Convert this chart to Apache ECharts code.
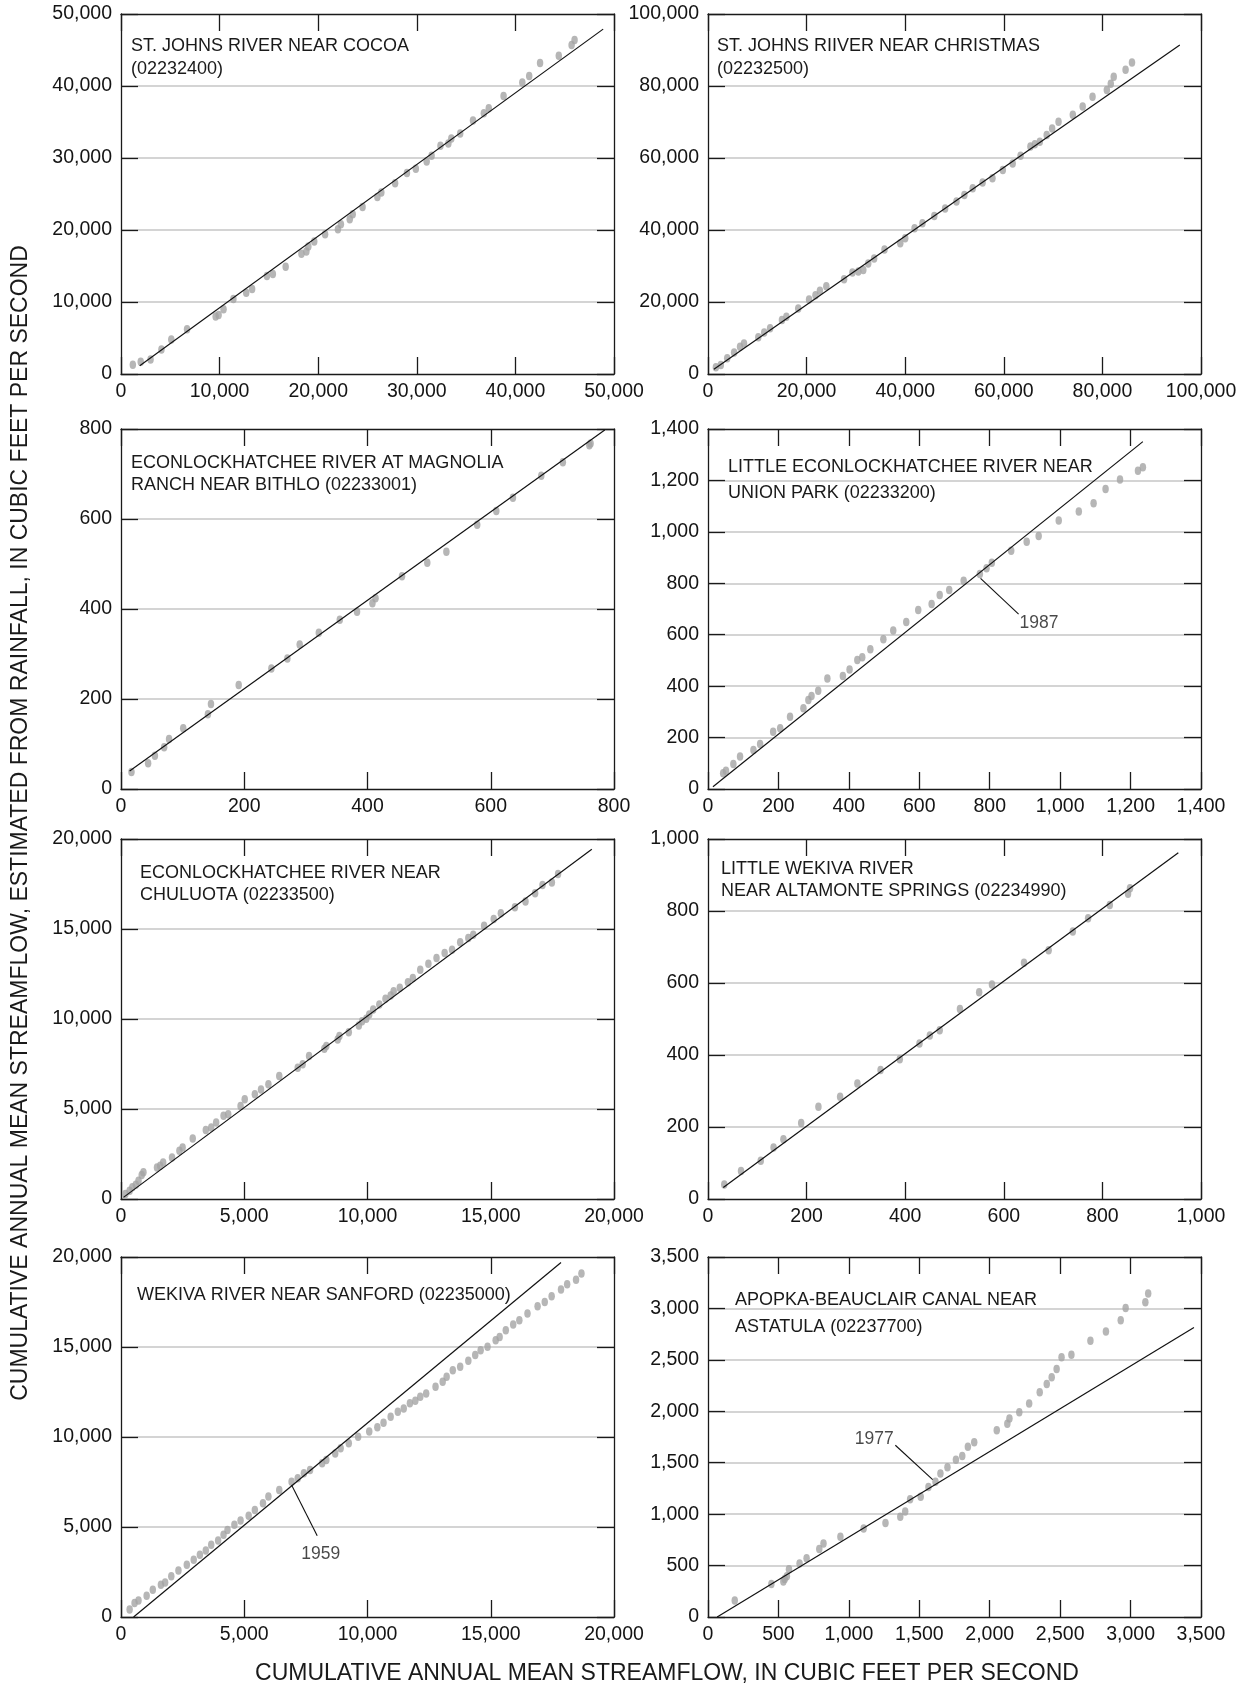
<!DOCTYPE html>
<html><head><meta charset="utf-8">
<script src="https://cdn.jsdelivr.net/npm/echarts@6/dist/echarts.min.js"></script>
<style>html,body{margin:0;padding:0;background:#fff}#c{width:1249px;height:1688px}</style>
</head><body><div id="c"></div>
<script>
const FONT = '"Liberation Sans", Arial, Helvetica, sans-serif';

// ---- panel titles ----
const panelTitles = [
  'ST. JOHNS RIVER NEAR COCOA\n(02232400)',
  'ST. JOHNS RIIVER NEAR CHRISTMAS\n(02232500)',
  'ECONLOCKHATCHEE RIVER AT MAGNOLIA\nRANCH NEAR BITHLO (02233001)',
  'LITTLE ECONLOCKHATCHEE RIVER NEAR\nUNION PARK (02233200)',
  'ECONLOCKHATCHEE RIVER NEAR\nCHULUOTA (02233500)',
  'LITTLE WEKIVA RIVER\nNEAR ALTAMONTE SPRINGS (02234990)',
  'WEKIVA RIVER NEAR SANFORD (02235000)',
  'APOPKA-BEAUCLAIR CANAL NEAR\nASTATULA (02237700)'
];

// ---- axis ranges / tick intervals ----
const axisMax = [50000, 100000, 800, 1400, 20000, 1000, 20000, 3500];
const axisInterval = [10000, 20000, 200, 200, 5000, 200, 5000, 500];

// ---- observed points [x, y] ----
const pts1 = [[1200,1300],[2000,1700],[3000,2000],[4100,3400],[5100,4800],[6700,6200],[9600,8000],[9900,8200],[10400,9000],[11400,10400],[12700,11300],[13300,11800],[14800,13600],[15400,13900],[16700,14900],[18300,16700],[18800,17000],[19000,17700],[19600,18400],[20700,19400],[22000,20100],[22300,20800],[23200,21500],[23500,22200],[24500,23200],[26000,24600],[26400,25200],[27800,26500],[29000,27900],[29900,28500],[31000,29500],[31500,30300],[32400,31700],[33200,32000],[33500,32700],[34400,33400],[35700,35200],[36800,36200],[37300,36900],[38800,38600],[40700,40500],[41400,41400],[42500,43200],[44400,44200],[45700,45700],[46000,46400]];
const pts2 = [[1600,1900],[2600,2500],[3900,4400],[5300,6000],[6500,7600],[7300,8500],[10200,10200],[11400,11500],[12600,12700],[15000,15000],[15900,15900],[18300,18200],[20500,20700],[21800,21900],[22700,23100],[24000,24400],[27600,26300],[29300,28200],[30500,28500],[31500,28900],[32500,30700],[33700,32100],[35800,34600],[39000,36300],[40000,37700],[41900,40500],[43500,41900],[45900,43900],[48100,46000],[50400,47900],[52000,49700],[53700,51600],[55700,53200],[57700,54400],[59800,56700],[61800,58500],[63400,60600],[65400,63200],[66300,63800],[67300,64500],[68700,66400],[69800,68200],[71100,70100],[74000,72000],[76000,74300],[78000,77000],[80900,78900],[81700,80600],[82300,82600],[84700,84500],[86000,86500]];
const pts3 = [[17,38],[44,57],[55,74],[70,93],[78,111],[101,135],[141,166],[146,189],[191,231],[244,268],[270,290],[290,321],[321,347],[355,376],[383,394],[408,413],[413,424],[456,473],[497,503],[528,527],[578,587],[609,618],[636,647],[682,696],[717,726],[760,764],[762,768]];
const pts4 = [[43,61],[51,71],[72,97],[91,126],[129,152],[148,175],[185,223],[205,236],[233,281],[271,314],[285,346],[294,362],[313,382],[339,430],[383,439],[402,465],[424,502],[438,512],[461,543],[498,582],[526,616],[563,649],[597,696],[635,719],[658,754],[685,774],[726,810],[772,836],[791,858],[806,880],[861,927],[905,962],[939,984],[996,1044],[1053,1079],[1095,1111],[1129,1167],[1170,1204],[1221,1238],[1235,1251]];
const pts5 = [[180,280],[350,460],[460,650],[600,790],[710,1020],[840,1330],[910,1480],[1460,1750],[1590,1850],[1710,2030],[2070,2310],[2370,2680],[2500,2860],[2910,3360],[3440,3840],[3660,3970],[3860,4250],[4160,4620],[4350,4710],[4850,5170],[5020,5540],[5430,5820],[5680,6090],[5980,6370],[6420,6830],[7170,7290],[7370,7480],[7630,7940],[8250,8350],[8330,8500],[8790,8860],[8860,9050],[9240,9270],[9650,9640],[9780,9880],[9950,10010],[10070,10250],[10230,10530],[10480,10800],[10730,11120],[10940,11300],[11060,11540],[11310,11730],[11640,12040],[11840,12280],[12140,12740],[12470,13070],[12800,13390],[13130,13670],[13430,13850],[13760,14260],[14090,14500],[14290,14680],[14730,15180],[15120,15550],[15410,15880],[15980,16210],[16410,16530],[16800,16990],[17100,17450],[17480,17580],[17730,18060]];
const pts6 = [[33,40],[67,78],[107,106],[133,143],[153,166],[189,211],[224,256],[268,284],[303,321],[350,358],[389,388],[429,432],[450,454],[470,469],[511,528],[550,574],[576,596],[641,656],[691,691],[740,743],[771,780],[815,817],[852,848],[856,863]];
const pts7 = [[350,410],[550,780],[710,920],[1040,1180],[1290,1520],[1620,1790],[1790,1920],[2040,2260],[2330,2590],[2670,2900],[2950,3180],[3200,3460],[3440,3700],[3660,4010],[3940,4250],[4160,4570],[4320,4840],[4600,5120],[4850,5360],[5180,5620],[5430,5950],[5760,6320],[5980,6690],[6420,7060],[6920,7520],[7170,7710],[7420,7990],[7670,8170],[8160,8540],[8330,8720],[8690,9090],[8910,9370],[9240,9650],[9620,10020],[10070,10300],[10400,10540],[10650,10790],[10940,11130],[11230,11400],[11470,11590],[11720,11870],[11940,12010],[12140,12240],[12380,12420],[12760,12790],[13050,13070],[13210,13350],[13460,13710],[13760,13900],[14090,14230],[14370,14550],[14590,14820],[14870,15010],[15200,15380],[15360,15560],[15610,15930],[15910,16250],[16160,16490],[16490,16860],[16900,17260],[17190,17500],[17470,17820],[17850,18190],[18100,18480],[18460,18740],[18680,19080]];
const pts8 = [[190,160],[450,320],[535,345],[545,370],[560,395],[575,465],[650,520],[700,570],[790,660],[820,715],[940,780],[1105,860],[1260,915],[1365,975],[1400,1025],[1435,1145],[1510,1170],[1565,1265],[1615,1315],[1650,1395],[1700,1455],[1760,1530],[1805,1565],[1845,1655],[1890,1700],[2050,1815],[2125,1880],[2140,1930],[2210,1990],[2280,2075],[2355,2185],[2405,2265],[2440,2330],[2475,2410],[2510,2525],[2580,2550],[2715,2685],[2825,2775],[2930,2885],[2965,3005],[3105,3060],[3125,3145]];
const points = [pts1, pts2, pts3, pts4, pts5, pts6, pts7, pts8];

// ---- fitted lines (end points) ----
const fit1 = [[1900,1150],[48900,47900]];
const fit2 = [[1200,1300],[95700,91400]];
const fit3 = [[14,40],[785,798]];
const fit4 = [[14,9],[1235,1351]];
const fit5 = [[100,90],[19100,19430]];
const fit6 = [[31,32],[954,962]];
const fit7 = [[510,0],[17850,19690]];
const fit8 = [[65,0],[3450,2815]];
const fits = [fit1, fit2, fit3, fit4, fit5, fit6, fit7, fit8];

// ---- year annotations: panel index, leader line, label anchor ----
const annPanels = [3, 6, 7];
const annYears = ['1987', '1959', '1977'];
const annLeaders = [[[774,819],[882,680]], [[6920,7340],[7960,4510]], [[1595,1335],[1330,1670]]];
const annLabelAt = [[940,644], [8100,3510], [1180,1725]];

// ---- layout (pixels) ----
const colLeft = [121, 708];
const rowTop = [14, 429, 839, 1257];
const plotW = 493, plotH = 360;
const titleOffsets = [[10,35,23],[9,35,23],[10,452,22],[20,454,26],[19,862,22],[13,858,22],[16,1284,22],[27,1287,27]];

function fmt(v){ return String(v).replace(/\B(?=(\d{3})+(?!\d))/g, ','); }

const grids = [], xAxes = [], yAxes = [], series = [], titles = [];
const ink = '#1a1a1a';
for (let i = 0; i < 8; i++) {
  const c = i % 2, r = Math.floor(i / 2);
  grids.push({left: colLeft[c], top: rowTop[r], width: plotW, height: plotH, containLabel: false});
  const base = {gridIndex: i, type: 'value', min: 0, max: axisMax[i], interval: axisInterval[i],
    axisLine: {show: true, onZero: false, lineStyle: {color: ink, width: 1.3}},
    axisTick: {show: true, inside: true, length: 17, lineStyle: {color: ink, width: 1.3}}};
  const lbl = {show: true, formatter: fmt, color: '#141414', fontSize: 19.5, fontFamily: FONT};
  xAxes.push(Object.assign({}, base, {position: 'bottom', axisLabel: Object.assign({margin: 8}, lbl), splitLine: {show: false}}));
  xAxes.push(Object.assign({}, base, {position: 'top', axisLabel: {show: false}, splitLine: {show: false}}));
  yAxes.push(Object.assign({}, base, {position: 'left', axisLabel: Object.assign({margin: 9}, lbl),
    splitLine: {show: true, showMinLine: false, showMaxLine: false, lineStyle: {color: '#c6c6c6', width: 1.5}}}));
  yAxes.push(Object.assign({}, base, {position: 'right', axisLabel: {show: false}, splitLine: {show: false}}));

  series.push({type: 'scatter', xAxisIndex: 2*i, yAxisIndex: 2*i, data: points[i], symbol: 'circle',
    symbolSize: [6.5, 8.5], itemStyle: {color: '#a4a4a4'}, silent: true, z: 3});
  series.push({type: 'line', xAxisIndex: 2*i, yAxisIndex: 2*i, data: fits[i], symbol: 'none',
    lineStyle: {color: '#111', width: 1.2}, silent: true, z: 4});

  const t = titleOffsets[i];
  titles.push({text: panelTitles[i], left: colLeft[c] + t[0], top: t[1], padding: 0,
    textStyle: {fontFamily: FONT, fontSize: 18, fontWeight: 'normal', color: '#1a1a1a', lineHeight: t[2]}});
}
annPanels.forEach((p, k) => {
  series.push({type: 'line', xAxisIndex: 2*p, yAxisIndex: 2*p, data: annLeaders[k], symbol: 'none',
    lineStyle: {color: '#111', width: 1.1}, silent: true, z: 4});
  series.push({type: 'scatter', xAxisIndex: 2*p, yAxisIndex: 2*p, data: [annLabelAt[k]], symbolSize: 0,
    label: {show: true, position: 'inside', formatter: annYears[k], fontFamily: FONT, fontSize: 17.5, color: '#1a1a1a'},
    silent: true, z: 5});
});

const chart = echarts.init(document.getElementById('c'), null, {renderer: 'canvas'});
chart.setOption({
  animation: false,
  backgroundColor: '#fff',
  title: titles,
  grid: grids, xAxis: xAxes, yAxis: yAxes, series: series,
  graphic: [
    {type: 'text', x: 667, y: 1674, style: {text: 'CUMULATIVE ANNUAL MEAN STREAMFLOW, IN CUBIC FEET PER SECOND',
      font: '23px ' + FONT, fill: '#1a1a1a', textAlign: 'center', textVerticalAlign: 'middle'}},
    {type: 'text', x: 21, y: 823, rotation: Math.PI / 2, style: {text: 'CUMULATIVE ANNUAL MEAN STREAMFLOW, ESTIMATED FROM RAINFALL, IN CUBIC FEET PER SECOND',
      font: '23px ' + FONT, fill: '#1a1a1a', textAlign: 'center', textVerticalAlign: 'middle'}}
  ]
});
</script></body></html>
